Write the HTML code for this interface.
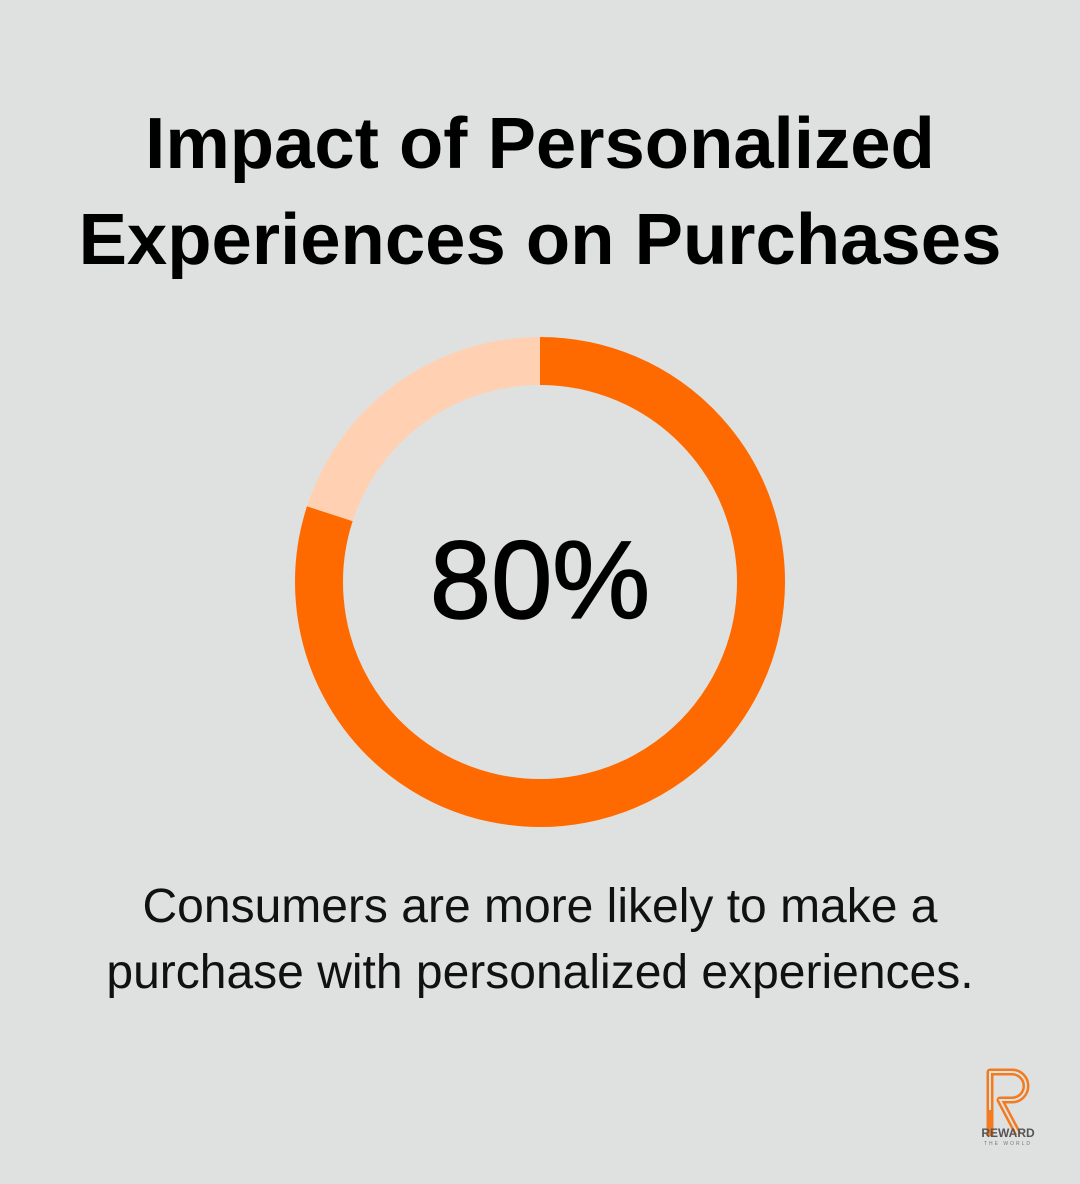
<!DOCTYPE html>
<html><head><meta charset="utf-8"><style>
html,body{margin:0;padding:0}
body{width:1080px;height:1184px;background:#dfe1e0;position:relative;overflow:hidden;font-family:"Liberation Sans",sans-serif}
h1{position:absolute;top:96px;left:0;width:1080px;margin:0;text-align:center;font-size:72.5px;line-height:96px;font-weight:bold;color:#000}
.desc{position:absolute;top:874px;left:0;width:1080px;text-align:center;font-size:48px;line-height:66px;color:#111;font-weight:300}
</style></head><body>
<h1>Impact of Personalized<br>Experiences on Purchases</h1>
<svg width="1080" height="1184" style="position:absolute;left:0;top:0" id="chart"></svg>
<div class="desc">Consumers are more likely to make a<br>purchase with personalized experiences.</div>
<svg width="100" height="100" style="position:absolute;left:960px;top:1060px">
<path d="M30 50 V12 H52 A14 14 0 0 1 52 40 H40 L58 74" fill="none" stroke="#f47a20" stroke-width="7" stroke-linejoin="round"/>
<path d="M30 50 V12 H52 A14 14 0 0 1 52 40 H40 L58 74" fill="none" stroke="#dfe1e0" stroke-width="2"/>
<path d="M30 50 V76" stroke="#f47a20" stroke-width="7"/>
<text x="48" y="77" text-anchor="middle" font-size="12" font-weight="bold" fill="#555" font-family="Liberation Sans">REWARD</text>
<text x="48" y="85" text-anchor="middle" font-size="5" fill="#777" letter-spacing="2" font-family="Liberation Sans">THE WORLD</text>
</svg>
<script>
const values=[80];
const total=100;
const svg=document.getElementById('chart');
const ns='http://www.w3.org/2000/svg';
const cx=540,cy=582,r=221,sw=48;
function pt(f){const a=f*2*Math.PI-Math.PI/2;return [cx+r*Math.cos(a),cy+r*Math.sin(a)];}
function arc(f0,f1,color,name){
 const p0=pt(f0),p1=pt(f1);const large=(f1-f0)>0.5?1:0;
 const p=document.createElementNS(ns,'path');
 p.setAttribute('d',`M${p0[0]} ${p0[1]} A${r} ${r} 0 ${large} 1 ${p1[0]} ${p1[1]}`);
 p.setAttribute('fill','none');p.setAttribute('stroke',color);p.setAttribute('stroke-width',sw);
 
 
 svg.appendChild(p);
}
const f=values[0]/total;
arc(0,f,'#ff6a00','donut-value-arc');
arc(f,0.99999,'#ffd1b2','donut-remainder-arc');
const t=document.createElementNS(ns,'text');
t.setAttribute('x',cx);t.setAttribute('y',cy+36);t.setAttribute('text-anchor','middle');
t.setAttribute('font-size','110');t.setAttribute('font-family','Liberation Sans, sans-serif');t.setAttribute('fill','#000');
t.setAttribute('stroke','#000');t.setAttribute('stroke-width','1.5');
t.textContent=values[0]+'%';


svg.appendChild(t);
</script>
</body></html>
